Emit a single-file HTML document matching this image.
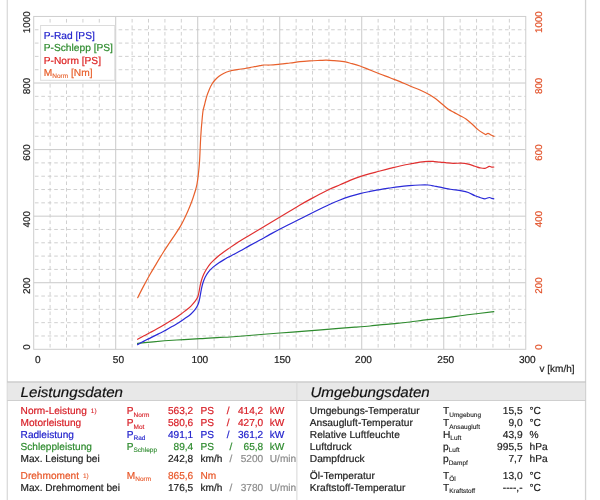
<!DOCTYPE html>
<html><head><meta charset="utf-8"><title>Leistungsdiagramm</title>
<style>
html,body{margin:0;padding:0;background:#fff;}
body{width:600px;height:500px;overflow:hidden;}
svg{display:block;will-change:transform;font-family:"Liberation Sans",sans-serif;text-rendering:geometricPrecision;}
text{stroke-width:0.2px;}
</style></head><body>
<svg width="600" height="500" viewBox="0 0 600 500">
<rect x="0" y="0" width="600" height="500" fill="#ffffff"/>

<rect x="6.7" y="0" width="1.1" height="500" fill="#d4d4d4"/>
<rect x="584.9" y="0" width="1.3" height="500" fill="#d2d2d2"/>
<g><line x1="33.70" y1="335.99" x2="525.76" y2="335.99" stroke="#cbcbcb" stroke-width="0.9" stroke-dasharray="3.6 2.84" stroke-dashoffset="5.24"/>
<line x1="33.70" y1="322.67" x2="525.76" y2="322.67" stroke="#cbcbcb" stroke-width="0.9" stroke-dasharray="3.6 2.84" stroke-dashoffset="5.24"/>
<line x1="33.70" y1="309.36" x2="525.76" y2="309.36" stroke="#cbcbcb" stroke-width="0.9" stroke-dasharray="3.6 2.84" stroke-dashoffset="5.24"/>
<line x1="33.70" y1="296.04" x2="525.76" y2="296.04" stroke="#cbcbcb" stroke-width="0.9" stroke-dasharray="3.6 2.84" stroke-dashoffset="5.24"/>
<line x1="33.70" y1="269.42" x2="525.76" y2="269.42" stroke="#cbcbcb" stroke-width="0.9" stroke-dasharray="3.6 2.84" stroke-dashoffset="5.24"/>
<line x1="33.70" y1="256.10" x2="525.76" y2="256.10" stroke="#cbcbcb" stroke-width="0.9" stroke-dasharray="3.6 2.84" stroke-dashoffset="5.24"/>
<line x1="33.70" y1="242.79" x2="525.76" y2="242.79" stroke="#cbcbcb" stroke-width="0.9" stroke-dasharray="3.6 2.84" stroke-dashoffset="5.24"/>
<line x1="33.70" y1="229.47" x2="525.76" y2="229.47" stroke="#cbcbcb" stroke-width="0.9" stroke-dasharray="3.6 2.84" stroke-dashoffset="5.24"/>
<line x1="33.70" y1="202.85" x2="525.76" y2="202.85" stroke="#cbcbcb" stroke-width="0.9" stroke-dasharray="3.6 2.84" stroke-dashoffset="5.24"/>
<line x1="33.70" y1="189.53" x2="525.76" y2="189.53" stroke="#cbcbcb" stroke-width="0.9" stroke-dasharray="3.6 2.84" stroke-dashoffset="5.24"/>
<line x1="33.70" y1="176.22" x2="525.76" y2="176.22" stroke="#cbcbcb" stroke-width="0.9" stroke-dasharray="3.6 2.84" stroke-dashoffset="5.24"/>
<line x1="33.70" y1="162.90" x2="525.76" y2="162.90" stroke="#cbcbcb" stroke-width="0.9" stroke-dasharray="3.6 2.84" stroke-dashoffset="5.24"/>
<line x1="33.70" y1="136.28" x2="525.76" y2="136.28" stroke="#cbcbcb" stroke-width="0.9" stroke-dasharray="3.6 2.84" stroke-dashoffset="5.24"/>
<line x1="33.70" y1="122.96" x2="525.76" y2="122.96" stroke="#cbcbcb" stroke-width="0.9" stroke-dasharray="3.6 2.84" stroke-dashoffset="5.24"/>
<line x1="33.70" y1="109.65" x2="525.76" y2="109.65" stroke="#cbcbcb" stroke-width="0.9" stroke-dasharray="3.6 2.84" stroke-dashoffset="5.24"/>
<line x1="33.70" y1="96.33" x2="525.76" y2="96.33" stroke="#cbcbcb" stroke-width="0.9" stroke-dasharray="3.6 2.84" stroke-dashoffset="5.24"/>
<line x1="33.70" y1="69.71" x2="525.76" y2="69.71" stroke="#cbcbcb" stroke-width="0.9" stroke-dasharray="3.6 2.84" stroke-dashoffset="5.24"/>
<line x1="33.70" y1="56.39" x2="525.76" y2="56.39" stroke="#cbcbcb" stroke-width="0.9" stroke-dasharray="3.6 2.84" stroke-dashoffset="5.24"/>
<line x1="33.70" y1="43.08" x2="525.76" y2="43.08" stroke="#cbcbcb" stroke-width="0.9" stroke-dasharray="3.6 2.84" stroke-dashoffset="5.24"/>
<line x1="33.70" y1="29.76" x2="525.76" y2="29.76" stroke="#cbcbcb" stroke-width="0.9" stroke-dasharray="3.6 2.84" stroke-dashoffset="5.24"/>
<line x1="50.10" y1="16.45" x2="50.10" y2="349.30" stroke="#cbcbcb" stroke-width="0.9" stroke-dasharray="3.6 2.9" stroke-dashoffset="4.0"/>
<line x1="66.50" y1="16.45" x2="66.50" y2="349.30" stroke="#cbcbcb" stroke-width="0.9" stroke-dasharray="3.6 2.9" stroke-dashoffset="4.0"/>
<line x1="82.91" y1="16.45" x2="82.91" y2="349.30" stroke="#cbcbcb" stroke-width="0.9" stroke-dasharray="3.6 2.9" stroke-dashoffset="4.0"/>
<line x1="99.31" y1="16.45" x2="99.31" y2="349.30" stroke="#cbcbcb" stroke-width="0.9" stroke-dasharray="3.6 2.9" stroke-dashoffset="4.0"/>
<line x1="132.11" y1="16.45" x2="132.11" y2="349.30" stroke="#cbcbcb" stroke-width="0.9" stroke-dasharray="3.6 2.9" stroke-dashoffset="4.0"/>
<line x1="148.51" y1="16.45" x2="148.51" y2="349.30" stroke="#cbcbcb" stroke-width="0.9" stroke-dasharray="3.6 2.9" stroke-dashoffset="4.0"/>
<line x1="164.92" y1="16.45" x2="164.92" y2="349.30" stroke="#cbcbcb" stroke-width="0.9" stroke-dasharray="3.6 2.9" stroke-dashoffset="4.0"/>
<line x1="181.32" y1="16.45" x2="181.32" y2="349.30" stroke="#cbcbcb" stroke-width="0.9" stroke-dasharray="3.6 2.9" stroke-dashoffset="4.0"/>
<line x1="214.12" y1="16.45" x2="214.12" y2="349.30" stroke="#cbcbcb" stroke-width="0.9" stroke-dasharray="3.6 2.9" stroke-dashoffset="4.0"/>
<line x1="230.52" y1="16.45" x2="230.52" y2="349.30" stroke="#cbcbcb" stroke-width="0.9" stroke-dasharray="3.6 2.9" stroke-dashoffset="4.0"/>
<line x1="246.93" y1="16.45" x2="246.93" y2="349.30" stroke="#cbcbcb" stroke-width="0.9" stroke-dasharray="3.6 2.9" stroke-dashoffset="4.0"/>
<line x1="263.33" y1="16.45" x2="263.33" y2="349.30" stroke="#cbcbcb" stroke-width="0.9" stroke-dasharray="3.6 2.9" stroke-dashoffset="4.0"/>
<line x1="296.13" y1="16.45" x2="296.13" y2="349.30" stroke="#cbcbcb" stroke-width="0.9" stroke-dasharray="3.6 2.9" stroke-dashoffset="4.0"/>
<line x1="312.53" y1="16.45" x2="312.53" y2="349.30" stroke="#cbcbcb" stroke-width="0.9" stroke-dasharray="3.6 2.9" stroke-dashoffset="4.0"/>
<line x1="328.94" y1="16.45" x2="328.94" y2="349.30" stroke="#cbcbcb" stroke-width="0.9" stroke-dasharray="3.6 2.9" stroke-dashoffset="4.0"/>
<line x1="345.34" y1="16.45" x2="345.34" y2="349.30" stroke="#cbcbcb" stroke-width="0.9" stroke-dasharray="3.6 2.9" stroke-dashoffset="4.0"/>
<line x1="378.14" y1="16.45" x2="378.14" y2="349.30" stroke="#cbcbcb" stroke-width="0.9" stroke-dasharray="3.6 2.9" stroke-dashoffset="4.0"/>
<line x1="394.54" y1="16.45" x2="394.54" y2="349.30" stroke="#cbcbcb" stroke-width="0.9" stroke-dasharray="3.6 2.9" stroke-dashoffset="4.0"/>
<line x1="410.95" y1="16.45" x2="410.95" y2="349.30" stroke="#cbcbcb" stroke-width="0.9" stroke-dasharray="3.6 2.9" stroke-dashoffset="4.0"/>
<line x1="427.35" y1="16.45" x2="427.35" y2="349.30" stroke="#cbcbcb" stroke-width="0.9" stroke-dasharray="3.6 2.9" stroke-dashoffset="4.0"/>
<line x1="460.15" y1="16.45" x2="460.15" y2="349.30" stroke="#cbcbcb" stroke-width="0.9" stroke-dasharray="3.6 2.9" stroke-dashoffset="4.0"/>
<line x1="476.55" y1="16.45" x2="476.55" y2="349.30" stroke="#cbcbcb" stroke-width="0.9" stroke-dasharray="3.6 2.9" stroke-dashoffset="4.0"/>
<line x1="492.96" y1="16.45" x2="492.96" y2="349.30" stroke="#cbcbcb" stroke-width="0.9" stroke-dasharray="3.6 2.9" stroke-dashoffset="4.0"/>
<line x1="509.36" y1="16.45" x2="509.36" y2="349.30" stroke="#cbcbcb" stroke-width="0.9" stroke-dasharray="3.6 2.9" stroke-dashoffset="4.0"/>
<line x1="33.70" y1="282.73" x2="525.76" y2="282.73" stroke="#cacaca" stroke-width="1"/>
<line x1="33.70" y1="216.16" x2="525.76" y2="216.16" stroke="#cacaca" stroke-width="1"/>
<line x1="33.70" y1="149.59" x2="525.76" y2="149.59" stroke="#cacaca" stroke-width="1"/>
<line x1="33.70" y1="83.02" x2="525.76" y2="83.02" stroke="#cacaca" stroke-width="1"/>
<line x1="115.71" y1="16.45" x2="115.71" y2="349.30" stroke="#cacaca" stroke-width="1"/>
<line x1="197.72" y1="16.45" x2="197.72" y2="349.30" stroke="#cacaca" stroke-width="1"/>
<line x1="279.73" y1="16.45" x2="279.73" y2="349.30" stroke="#cacaca" stroke-width="1"/>
<line x1="361.74" y1="16.45" x2="361.74" y2="349.30" stroke="#cacaca" stroke-width="1"/>
<line x1="443.75" y1="16.45" x2="443.75" y2="349.30" stroke="#cacaca" stroke-width="1"/>
<rect x="33.70" y="16.45" width="492.06" height="332.85" fill="none" stroke="#cecece" stroke-width="1"/></g>
<path d="M137.6,343.4 C140.2,343.1 146.8,342.4 153.3,341.8 C159.8,341.2 168.9,340.5 176.7,340.0 C184.5,339.5 192.8,339.1 200.0,338.7 C207.2,338.3 215.0,337.7 220.0,337.4 C225.0,337.1 224.2,337.4 230.0,337.0 C235.8,336.6 246.7,335.7 255.0,335.0 C263.3,334.3 271.7,333.6 280.0,333.0 C288.3,332.4 296.7,331.8 305.0,331.2 C313.3,330.6 321.7,329.9 330.0,329.2 C338.3,328.5 348.3,327.7 355.0,327.2 C361.7,326.7 365.8,326.4 370.0,326.0 C374.2,325.6 375.8,325.3 380.0,324.9 C384.2,324.5 390.0,324.2 395.0,323.7 C400.0,323.2 404.6,322.7 410.0,322.0 C415.4,321.3 421.7,320.3 427.5,319.6 C433.3,318.9 437.9,318.8 445.0,317.9 C452.1,317.0 461.9,315.5 470.0,314.5 C478.1,313.5 489.8,312.2 493.8,311.7" fill="none" stroke="#2e8b2e" stroke-width="1.2" stroke-linejoin="round" stroke-linecap="round"/>
<path d="M137.6,344.6 C138.7,344.0 141.8,342.3 144.0,341.1 C146.2,339.9 148.7,338.8 151.0,337.6 C153.3,336.4 155.7,335.3 158.0,334.1 C160.3,332.9 162.7,331.9 165.0,330.6 C167.3,329.4 169.7,328.0 172.0,326.6 C174.3,325.2 176.9,323.9 179.0,322.5 C181.1,321.1 182.9,319.9 184.8,318.5 C186.8,317.1 189.0,315.7 190.7,314.2 C192.4,312.7 194.0,311.0 195.2,309.4 C196.4,307.8 197.3,306.3 198.0,304.6 C198.7,302.9 199.1,301.1 199.5,299.4 C199.9,297.7 200.2,296.0 200.5,294.2 C200.8,292.4 201.1,290.5 201.5,288.6 C201.9,286.7 202.3,284.9 202.9,283.0 C203.5,281.1 204.1,279.3 205.0,277.4 C205.9,275.5 207.1,273.6 208.5,271.8 C209.9,270.1 211.7,268.4 213.4,266.9 C215.2,265.4 216.9,264.1 219.0,262.7 C221.1,261.3 224.2,259.6 226.0,258.5 C227.8,257.4 227.7,257.6 230.0,256.4 C232.3,255.1 236.7,252.8 240.0,251.0 C243.3,249.2 246.7,247.2 250.0,245.4 C253.3,243.6 256.7,241.8 260.0,240.0 C263.3,238.2 266.7,236.2 270.0,234.4 C273.3,232.6 276.7,230.7 280.0,229.0 C283.3,227.3 286.7,225.7 290.0,224.0 C293.3,222.3 296.7,220.7 300.0,219.0 C303.3,217.3 306.7,215.7 310.0,214.0 C313.3,212.3 316.7,210.6 320.0,209.0 C323.3,207.4 326.7,205.7 330.0,204.2 C333.3,202.7 336.7,201.3 340.0,200.0 C343.3,198.7 346.7,197.5 350.0,196.4 C353.3,195.3 356.7,194.4 360.0,193.6 C363.3,192.8 366.7,192.1 370.0,191.4 C373.3,190.7 376.7,190.2 380.0,189.6 C383.3,189.0 386.7,188.5 390.0,188.0 C393.3,187.5 396.7,187.0 400.0,186.6 C403.3,186.2 406.7,185.9 410.0,185.6 C413.3,185.3 417.0,185.1 420.0,185.0 C423.0,184.9 425.7,184.8 428.0,185.0 C430.3,185.2 432.0,185.6 434.0,186.0 C436.0,186.4 437.9,186.8 440.0,187.2 C442.1,187.6 444.5,188.3 446.7,188.7 C448.9,189.1 450.8,189.3 453.3,189.7 C455.8,190.0 459.2,190.3 461.7,190.8 C464.2,191.3 466.1,191.7 468.3,192.5 C470.5,193.3 473.1,195.0 475.0,195.8 C476.9,196.6 478.3,197.0 480.0,197.5 C481.7,198.0 483.5,198.8 485.0,198.8 C486.5,198.8 488.1,197.6 489.2,197.5 C490.3,197.4 490.9,198.1 491.7,198.3 C492.5,198.5 493.4,198.7 493.8,198.8" fill="none" stroke="#2a2ad8" stroke-width="1.2" stroke-linejoin="round" stroke-linecap="round"/>
<path d="M137.6,339.3 C138.7,338.7 141.8,337.0 144.0,335.8 C146.2,334.6 148.7,333.4 151.0,332.1 C153.3,330.9 155.7,329.6 158.0,328.3 C160.3,327.0 162.7,325.6 165.0,324.2 C167.3,322.8 169.7,321.6 172.0,320.1 C174.3,318.6 176.9,316.9 179.0,315.4 C181.1,313.9 182.9,312.6 184.8,311.1 C186.8,309.6 189.0,308.0 190.7,306.3 C192.4,304.6 194.0,302.8 195.2,301.2 C196.4,299.6 197.2,298.4 197.8,296.8 C198.5,295.2 198.7,293.2 199.1,291.4 C199.5,289.6 199.7,287.7 200.1,285.8 C200.5,283.9 200.9,282.1 201.5,280.2 C202.1,278.3 202.8,276.5 203.6,274.6 C204.4,272.7 205.4,270.9 206.6,269.0 C207.8,267.1 209.2,265.0 210.6,263.4 C212.0,261.8 213.3,260.6 214.8,259.2 C216.3,257.8 217.5,256.7 219.7,255.0 C221.9,253.3 224.6,251.3 228.0,249.0 C231.4,246.7 236.3,243.3 240.0,241.0 C243.7,238.7 246.7,237.0 250.0,235.0 C253.3,233.0 256.7,231.0 260.0,229.0 C263.3,227.0 266.7,225.0 270.0,223.0 C273.3,221.0 276.7,219.0 280.0,217.0 C283.3,215.0 286.7,213.0 290.0,211.0 C293.3,209.0 296.7,206.9 300.0,205.0 C303.3,203.1 306.7,201.2 310.0,199.4 C313.3,197.6 316.7,195.7 320.0,194.0 C323.3,192.3 326.7,190.5 330.0,189.0 C333.3,187.5 336.7,186.2 340.0,184.8 C343.3,183.4 346.7,181.8 350.0,180.4 C353.3,179.0 356.7,177.7 360.0,176.6 C363.3,175.5 366.7,174.5 370.0,173.6 C373.3,172.7 376.7,171.9 380.0,171.0 C383.3,170.1 386.7,169.2 390.0,168.4 C393.3,167.6 396.7,166.7 400.0,166.0 C403.3,165.3 406.7,164.6 410.0,164.0 C413.3,163.4 417.0,162.6 420.0,162.2 C423.0,161.8 425.8,161.5 428.0,161.4 C430.2,161.3 431.0,161.3 433.0,161.4 C435.0,161.5 437.7,161.9 440.0,162.1 C442.3,162.3 444.5,162.6 446.7,162.8 C448.9,163.0 450.8,163.2 453.3,163.3 C455.8,163.4 459.2,163.0 461.7,163.2 C464.2,163.3 466.1,163.7 468.3,164.2 C470.5,164.7 473.1,165.7 475.0,166.3 C476.9,166.9 478.3,167.5 480.0,167.8 C481.7,168.1 483.5,168.6 485.0,168.3 C486.5,168.1 488.1,166.5 489.2,166.3 C490.3,166.1 490.9,167.1 491.7,167.2 C492.5,167.3 493.4,167.0 493.8,167.0" fill="none" stroke="#e03030" stroke-width="1.2" stroke-linejoin="round" stroke-linecap="round"/>
<path d="M137.7,297.7 C138.6,295.9 141.2,290.7 143.2,286.9 C145.2,283.1 147.6,278.7 149.8,274.8 C152.0,270.9 154.2,267.3 156.4,263.6 C158.6,259.9 160.8,256.2 163.0,252.7 C165.2,249.2 167.4,246.0 169.6,242.7 C171.8,239.4 174.2,236.0 176.2,232.9 C178.2,229.8 180.0,227.0 181.6,224.1 C183.2,221.2 184.6,218.2 186.0,215.3 C187.4,212.4 188.6,209.4 189.8,206.5 C191.0,203.6 192.1,200.7 193.0,198.0 C193.9,195.3 194.7,192.8 195.4,190.5 C196.1,188.2 196.5,186.8 197.0,184.0 C197.5,181.2 198.0,177.7 198.4,174.0 C198.8,170.3 199.2,166.0 199.5,162.0 C199.8,158.0 199.9,154.3 200.1,150.0 C200.3,145.7 200.5,140.3 200.8,136.0 C201.1,131.7 201.3,128.2 201.7,124.0 C202.1,119.8 202.5,114.2 203.0,111.0 C203.5,107.8 204.0,107.0 204.5,105.0 C205.0,103.0 205.5,100.8 206.0,99.0 C206.5,97.2 206.9,95.7 207.5,94.0 C208.1,92.3 208.8,90.7 209.5,89.0 C210.2,87.3 211.1,85.5 212.0,84.0 C212.9,82.5 213.8,81.3 215.0,80.0 C216.2,78.7 217.5,77.3 219.0,76.2 C220.5,75.1 222.2,74.1 224.0,73.2 C225.8,72.3 227.8,71.6 230.0,71.0 C232.2,70.4 234.5,70.1 237.0,69.7 C239.5,69.3 242.8,68.8 245.0,68.5 C247.2,68.2 247.5,68.1 250.0,67.6 C252.5,67.1 257.7,66.0 260.0,65.6 C262.3,65.2 262.3,65.1 264.0,65.0 C265.7,64.9 267.3,65.1 270.0,65.0 C272.7,64.9 276.7,64.5 280.0,64.2 C283.3,63.9 286.7,63.4 290.0,63.0 C293.3,62.6 296.7,62.0 300.0,61.6 C303.3,61.2 306.7,61.0 310.0,60.8 C313.3,60.6 317.3,60.5 320.0,60.4 C322.7,60.3 323.7,60.2 326.0,60.2 C328.3,60.2 331.0,60.4 334.0,60.6 C337.0,60.8 341.0,61.1 344.0,61.6 C347.0,62.1 349.3,62.9 352.0,63.6 C354.7,64.3 357.0,64.9 360.0,66.0 C363.0,67.1 366.7,68.7 370.0,70.0 C373.3,71.3 376.7,72.7 380.0,74.0 C383.3,75.3 386.7,76.5 390.0,77.8 C393.3,79.1 396.7,80.2 400.0,81.6 C403.3,83.0 406.7,84.6 410.0,86.0 C413.3,87.4 416.7,88.5 420.0,90.0 C423.3,91.5 427.3,93.5 430.0,95.0 C432.7,96.5 434.0,97.5 436.0,99.0 C438.0,100.5 440.0,102.3 442.0,104.0 C444.0,105.7 446.0,107.6 448.0,109.0 C450.0,110.4 452.0,111.3 454.0,112.4 C456.0,113.5 458.0,114.5 460.0,115.6 C462.0,116.7 464.0,117.6 466.0,119.0 C468.0,120.4 470.0,122.2 472.0,124.0 C474.0,125.8 476.2,128.1 478.0,129.6 C479.8,131.1 481.7,132.2 483.0,133.0 C484.3,133.8 484.8,134.5 485.6,134.6 C486.4,134.7 487.1,133.3 488.0,133.4 C488.9,133.5 490.0,134.5 491.0,135.0 C492.0,135.5 493.5,136.2 494.0,136.4" fill="none" stroke="#e8602c" stroke-width="1.2" stroke-linejoin="round" stroke-linecap="round"/>
<rect x="40.6" y="25.5" width="74.2" height="54.8" fill="#ffffff" stroke="#dcdcdc" stroke-width="1"/>
<g font-size="10.2px" class="tk">
<text x="43.8" y="39.1" fill="#2222cc" stroke="#2222cc">P-Rad [PS]</text>
<text x="43.8" y="51.4" fill="#2e8b2e" stroke="#2e8b2e">P-Schlepp [PS]</text>
<text x="43.8" y="63.6" fill="#dd2222" stroke="#dd2222">P-Norm [PS]</text>
<text x="43.8" y="75.5" fill="#e8602c" stroke="#e8602c">M<tspan font-size="6.5px" stroke-width="0.12" dy="2.2">Norm</tspan><tspan dy="-2.2"> [Nm]</tspan></text>
</g>
<g font-size="9.9px" fill="#222222" stroke="#222222">
<text transform="translate(30,344.3) rotate(-90)" text-anchor="end">0</text>
<text transform="translate(30,277.4) rotate(-90)" text-anchor="end">200</text>
<text transform="translate(30,210.9) rotate(-90)" text-anchor="end">400</text>
<text transform="translate(30,144.3) rotate(-90)" text-anchor="end">600</text>
<text transform="translate(30,77.7) rotate(-90)" text-anchor="end">800</text>
<text transform="translate(30,11.2) rotate(-90)" text-anchor="end">1000</text>
</g>
<g font-size="9.8px" fill="#e2522a" stroke="#e2522a">
<text transform="translate(542.2,344.3) rotate(-90)" text-anchor="end">0</text>
<text transform="translate(542.2,277.4) rotate(-90)" text-anchor="end">200</text>
<text transform="translate(542.2,210.9) rotate(-90)" text-anchor="end">400</text>
<text transform="translate(542.2,144.3) rotate(-90)" text-anchor="end">600</text>
<text transform="translate(542.2,77.7) rotate(-90)" text-anchor="end">800</text>
<text transform="translate(542.2,11.2) rotate(-90)" text-anchor="end">1000</text>
</g>
<g font-size="10.1px" fill="#222222" stroke="#222222">
<text x="35.1" y="363.3">0</text>
<text x="112.8" y="363.3">50</text>
<text x="191.4" y="363.3">100</text>
<text x="273.9" y="363.3">150</text>
<text x="355.1" y="363.3">200</text>
<text x="437.3" y="363.3">250</text>
<text x="518.9" y="363.3">300</text>
<text x="539.5" y="372.3" font-size="10px">v [km/h]</text>
</g>
<rect x="7.8" y="382" width="577.2" height="18.5" fill="#e8e8e8"/>
<rect x="7.2" y="381.4" width="578.6" height="1.1" fill="#c0c0c0"/>
<rect x="7.2" y="400" width="578.6" height="1" fill="#cfcfcf"/>
<rect x="296.4" y="382" width="1" height="118" fill="#d6d6d6"/>
<g font-size="14.2px" font-style="italic" fill="#111111" stroke="#111111">
<text x="20.6" y="397.3" textLength="102.4" lengthAdjust="spacingAndGlyphs">Leistungsdaten</text>
<text x="310.4" y="397.3" textLength="119.4" lengthAdjust="spacingAndGlyphs">Umgebungsdaten</text>
</g>
<defs><clipPath id="cl"><rect x="8" y="401" width="288.4" height="99"/></clipPath></defs>
<g font-size="10.1px" clip-path="url(#cl)">
<text x="20.6" y="414.2" fill="#d82028" stroke="#d82028">Norm-Leistung<tspan font-size="6.5px" stroke-width="0.1" dx="4" dy="-1">1)</tspan></text>
<text x="126.8" y="414.2" fill="#d82028" stroke="#d82028">P<tspan font-size="6.5px" stroke-width="0.12" dy="2.5">Norm</tspan></text>
<text x="193.2" y="414.2" fill="#d82028" stroke="#d82028" text-anchor="end">563,2</text>
<text x="200.5" y="414.2" fill="#d82028" stroke="#d82028">PS</text>
<text x="263.2" y="414.2" fill="#d82028" stroke="#d82028" text-anchor="end">/   414,2</text>
<text x="269.8" y="414.2" fill="#d82028" stroke="#d82028">kW</text>
<text x="20.6" y="426.0" fill="#d82028" stroke="#d82028">Motorleistung</text>
<text x="126.8" y="426.0" fill="#d82028" stroke="#d82028">P<tspan font-size="6.5px" stroke-width="0.12" dy="2.5">Mot</tspan></text>
<text x="193.2" y="426.0" fill="#d82028" stroke="#d82028" text-anchor="end">580,6</text>
<text x="200.5" y="426.0" fill="#d82028" stroke="#d82028">PS</text>
<text x="263.2" y="426.0" fill="#d82028" stroke="#d82028" text-anchor="end">/   427,0</text>
<text x="269.8" y="426.0" fill="#d82028" stroke="#d82028">kW</text>
<text x="20.6" y="437.9" fill="#2222cc" stroke="#2222cc">Radleistung</text>
<text x="126.8" y="437.9" fill="#2222cc" stroke="#2222cc">P<tspan font-size="6.5px" stroke-width="0.12" dy="2.5">Rad</tspan></text>
<text x="193.2" y="437.9" fill="#2222cc" stroke="#2222cc" text-anchor="end">491,1</text>
<text x="200.5" y="437.9" fill="#2222cc" stroke="#2222cc">PS</text>
<text x="263.2" y="437.9" fill="#2222cc" stroke="#2222cc" text-anchor="end">/   361,2</text>
<text x="269.8" y="437.9" fill="#2222cc" stroke="#2222cc">kW</text>
<text x="20.6" y="449.9" fill="#2e8b2e" stroke="#2e8b2e">Schleppleistung</text>
<text x="126.8" y="449.9" fill="#2e8b2e" stroke="#2e8b2e">P<tspan font-size="6.5px" stroke-width="0.12" dy="2.5">Schlepp</tspan></text>
<text x="193.2" y="449.9" fill="#2e8b2e" stroke="#2e8b2e" text-anchor="end">89,4</text>
<text x="200.5" y="449.9" fill="#2e8b2e" stroke="#2e8b2e">PS</text>
<text x="263.2" y="449.9" fill="#2e8b2e" stroke="#2e8b2e" text-anchor="end">/    65,8</text>
<text x="269.8" y="449.9" fill="#2e8b2e" stroke="#2e8b2e">kW</text>
<text x="20.6" y="462.0" fill="#222222" stroke="#222222">Max. Leistung bei</text>
<text x="193.2" y="462.0" fill="#222222" stroke="#222222" text-anchor="end">242,8</text>
<text x="200.5" y="462.0" fill="#222222" stroke="#222222">km/h</text>
<text x="263.2" y="462.0" fill="#8c8c8c" stroke="#8c8c8c" text-anchor="end">/   5200</text>
<text x="269.8" y="462.0" fill="#8c8c8c" stroke="#8c8c8c">U/min</text>
<text x="20.6" y="478.7" fill="#e8582a" stroke="#e8582a">Drehmoment<tspan font-size="6.5px" stroke-width="0.1" dx="4" dy="-1">1)</tspan></text>
<text x="126.8" y="478.7" fill="#e8582a" stroke="#e8582a">M<tspan font-size="6.5px" stroke-width="0.12" dy="2.5">Norm</tspan></text>
<text x="193.2" y="478.7" fill="#e8582a" stroke="#e8582a" text-anchor="end">865,6</text>
<text x="200.5" y="478.7" fill="#e8582a" stroke="#e8582a">Nm</text>
<text x="20.6" y="490.7" fill="#222222" stroke="#222222">Max. Drehmoment bei</text>
<text x="193.2" y="490.7" fill="#222222" stroke="#222222" text-anchor="end">176,5</text>
<text x="200.5" y="490.7" fill="#222222" stroke="#222222">km/h</text>
<text x="263.2" y="490.7" fill="#8c8c8c" stroke="#8c8c8c" text-anchor="end">/   3780</text>
<text x="269.8" y="490.7" fill="#8c8c8c" stroke="#8c8c8c">U/min</text>
</g>
<g font-size="10.2px" fill="#222222" stroke="#222222">
<text x="309.8" y="414.2">Umgebungs-Temperatur</text>
<text x="443" y="414.2">T<tspan font-size="6.5px" stroke-width="0.12" dy="2.5">Umgebung</tspan></text>
<text x="522.6" y="414.2" text-anchor="end">15,5</text>
<text x="529.5" y="414.2">°C</text>
<text x="309.8" y="426.0">Ansaugluft-Temperatur</text>
<text x="443" y="426.0">T<tspan font-size="6.5px" stroke-width="0.12" dy="2.5">Ansaugluft</tspan></text>
<text x="522.6" y="426.0" text-anchor="end">9,0</text>
<text x="529.5" y="426.0">°C</text>
<text x="309.8" y="437.9">Relative Luftfeuchte</text>
<text x="443" y="437.9">H<tspan font-size="6.5px" stroke-width="0.12" dy="2.5">Luft</tspan></text>
<text x="522.6" y="437.9" text-anchor="end">43,9</text>
<text x="529.5" y="437.9">%</text>
<text x="309.8" y="449.9">Luftdruck</text>
<text x="443" y="449.9">p<tspan font-size="6.5px" stroke-width="0.12" dy="2.5">Luft</tspan></text>
<text x="522.6" y="449.9" text-anchor="end">995,5</text>
<text x="529.5" y="449.9">hPa</text>
<text x="309.8" y="462.0">Dampfdruck</text>
<text x="443" y="462.0">p<tspan font-size="6.5px" stroke-width="0.12" dy="2.5">Dampf</tspan></text>
<text x="522.6" y="462.0" text-anchor="end">7,7</text>
<text x="529.5" y="462.0">hPa</text>
<text x="309.8" y="478.7">Öl-Temperatur</text>
<text x="443" y="478.7">T<tspan font-size="6.5px" stroke-width="0.12" dy="2.5">Öl</tspan></text>
<text x="522.6" y="478.7" text-anchor="end">13,0</text>
<text x="529.5" y="478.7">°C</text>
<text x="309.8" y="490.7">Kraftstoff-Temperatur</text>
<text x="443" y="490.7">T<tspan font-size="6.5px" stroke-width="0.12" dy="2.5">Kraftstoff</tspan></text>
<text x="522.6" y="490.7" text-anchor="end">----,-</text>
<text x="529.5" y="490.7">°C</text>
</g>
</svg></body></html>
